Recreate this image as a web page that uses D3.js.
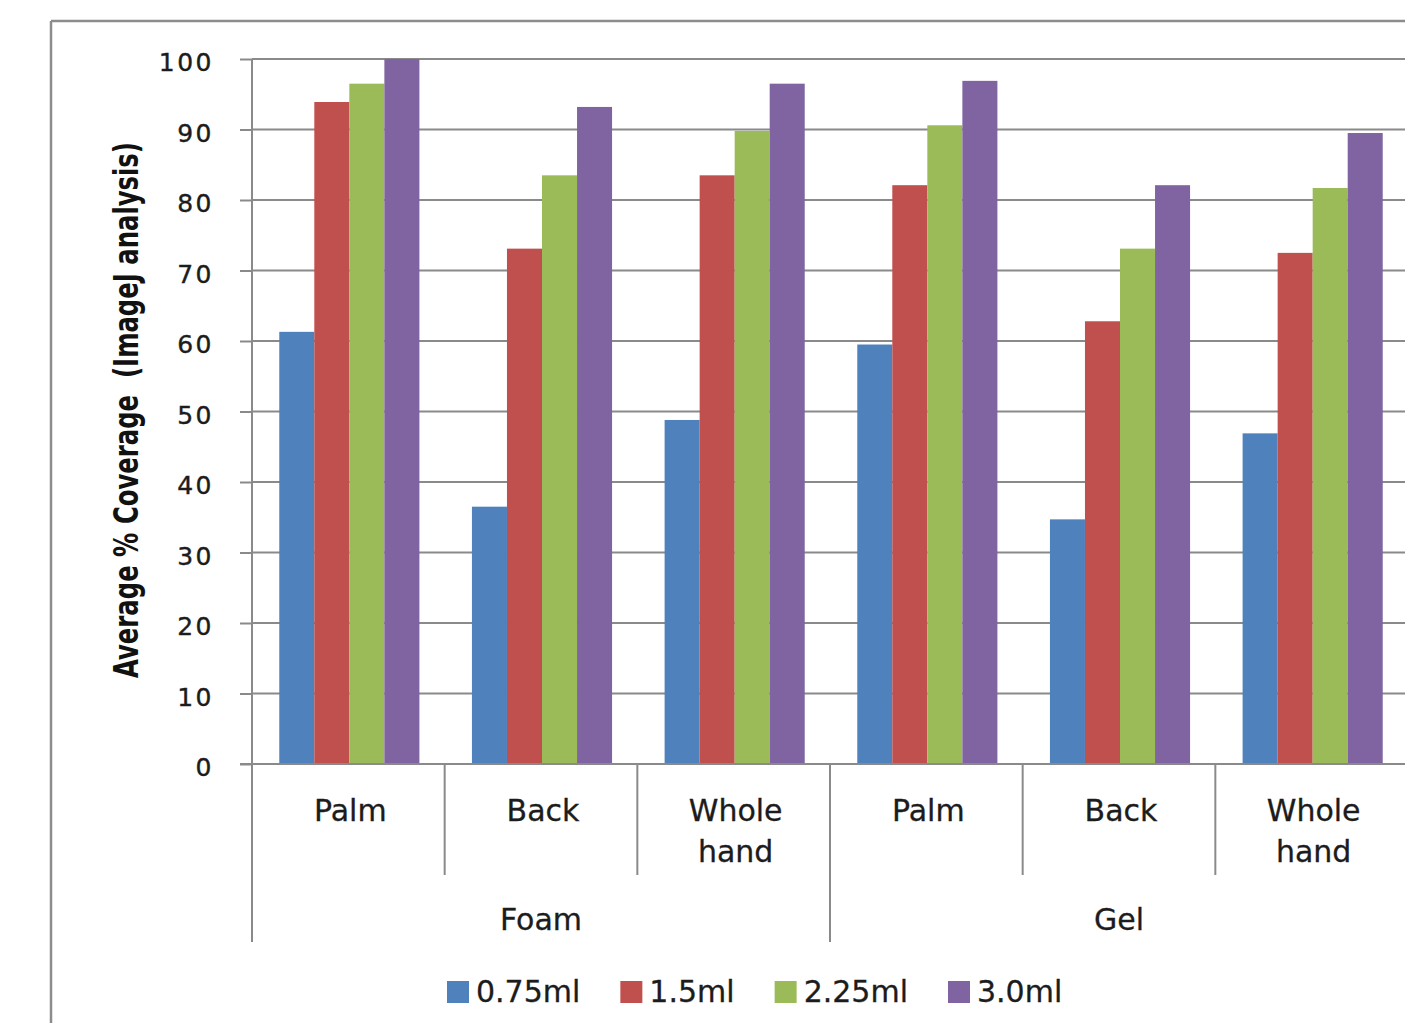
<!DOCTYPE html>
<html>
<head>
<meta charset="utf-8">
<script src="https://cdn.jsdelivr.net/npm/d3@7"></script>
<style>
  html, body { margin: 0; padding: 0; background: #fff; overflow: hidden; }
  svg { display: block; font-family: "DejaVu Sans", Verdana, sans-serif; }
</style>
</head>
<body>
<svg id="chart" width="1405" height="1023"></svg>
<script>
// Sub-regions of the hand, grouped by product type
const groups = ["Foam", "Gel"];
const regions = ["Palm", "Back", "Whole hand"];
const categories = ["Foam|Palm", "Foam|Back", "Foam|Whole hand", "Gel|Palm", "Gel|Back", "Gel|Whole hand"];

// Applied volume series
const seriesNames = ["0.75ml", "1.5ml", "2.25ml", "3.0ml"];
const seriesColors = ["#4F81BD", "#C0504D", "#9BBB59", "#8064A2"];

// Average % coverage for each category, one array per volume
const v075 = [61.3, 36.5, 48.8, 59.5, 34.7, 46.9];
const v150 = [93.9, 73.1, 83.5, 82.1, 62.8, 72.5];
const v225 = [96.5, 83.5, 89.8, 90.6, 73.1, 81.7];
const v300 = [100.0, 93.2, 96.5, 96.9, 82.1, 89.5];

const yTicks = [0, 10, 20, 30, 40, 50, 60, 70, 80, 90, 100];
const yTitle = "Average % Coverage  (ImageJ analysis)";

const seriesValues = [v075, v150, v225, v300];

const svg = d3.select("#chart");
const gridColor = "#8a8a8a";
const textColor = "#1c1c1c";

// plot geometry
const plotLeft = 252, plotRight = 1408, plotTop = 59, plotBottom = 764;

// outer chart frame
svg.append("line").attr("x1", 51).attr("x2", 1405).attr("y1", 21).attr("y2", 21)
  .attr("stroke", "#8c8c8c").attr("stroke-width", 2.5);
svg.append("line").attr("x1", 51).attr("x2", 51).attr("y1", 21).attr("y2", 1023)
  .attr("stroke", "#8c8c8c").attr("stroke-width", 2.5);

const y = d3.scaleLinear().domain([0, 100]).range([plotBottom, plotTop]);
const x0 = d3.scaleBand().domain(categories).range([plotLeft, plotRight]).padding(0);
const x1 = d3.scaleBand().domain(seriesNames).range([1, x0.bandwidth() + 1])
  .paddingInner(0).paddingOuter(0.75);

// horizontal gridlines
svg.append("g").selectAll("line").data(yTicks.filter(t => t > 0)).join("line")
  .attr("x1", plotLeft).attr("x2", plotRight)
  .attr("y1", d => y(d)).attr("y2", d => y(d))
  .attr("stroke", gridColor).attr("stroke-width", 2);

// bars
const rows = categories.map((c, i) => ({ cat: c, vals: seriesNames.map((s, j) => ({ s, j, v: seriesValues[j][i] })) }));
svg.append("g").selectAll("g").data(rows).join("g")
  .attr("transform", d => `translate(${x0(d.cat)},0)`)
  .selectAll("rect").data(d => d.vals).join("rect")
  .attr("x", d => x1(d.s))
  .attr("width", x1.bandwidth())
  .attr("y", d => y(d.v))
  .attr("height", d => y(0) - y(d.v))
  .attr("fill", d => seriesColors[d.j]);

// y axis
const yAxis = d3.axisLeft(y).tickValues(yTicks).tickSizeInner(12).tickSizeOuter(0).tickPadding(26);
const gy = svg.append("g").attr("transform", `translate(${plotLeft},0)`).call(yAxis);
gy.select(".domain").remove();
gy.selectAll(".tick line").attr("stroke", gridColor).attr("stroke-width", 2);
gy.selectAll(".tick text")
  .attr("fill", textColor)
  .attr("stroke", textColor)
  .attr("stroke-width", 0.4)
  .attr("font-size", 25)
  .attr("letter-spacing", 2.5)
  .attr("dy", "0.46em")
  .attr("font-family", "DejaVu Sans, sans-serif");

// y axis line running through the category label area
svg.append("line").attr("x1", plotLeft).attr("x2", plotLeft).attr("y1", plotTop).attr("y2", 942)
  .attr("stroke", gridColor).attr("stroke-width", 2);
// baseline
svg.append("line").attr("x1", plotLeft - 12).attr("x2", plotRight).attr("y1", plotBottom).attr("y2", plotBottom)
  .attr("stroke", gridColor).attr("stroke-width", 2);

// category separators: short between regions, long between groups
categories.forEach((c, i) => {
  if (i === 0) return;
  const isGroupEdge = i % regions.length === 0;
  svg.append("line")
    .attr("x1", x0(c)).attr("x2", x0(c))
    .attr("y1", plotBottom).attr("y2", isGroupEdge ? 942 : 875)
    .attr("stroke", gridColor).attr("stroke-width", 2);
});
svg.append("line").attr("x1", plotRight).attr("x2", plotRight).attr("y1", plotBottom).attr("y2", 942)
  .attr("stroke", gridColor).attr("stroke-width", 2);

// region labels (wrapped)
const catLabels = svg.append("g").selectAll("text").data(categories).join("text")
  .attr("x", d => x0(d) + x0.bandwidth() / 2 + 2)
  .attr("y", 821)
  .attr("text-anchor", "middle")
  .attr("font-size", 30)
  .attr("fill", textColor)
  .attr("stroke", textColor)
  .attr("stroke-width", 0.3);
catLabels.each(function (d) {
  const words = d.split("|")[1].split(" ");
  const t = d3.select(this);
  words.forEach((w, k) => {
    t.append("tspan").attr("x", t.attr("x")).attr("dy", k === 0 ? 0 : 41).text(w);
  });
});

// group labels
const groupWidth = x0.bandwidth() * regions.length;
svg.append("g").selectAll("text").data(groups).join("text")
  .attr("x", (d, i) => plotLeft + groupWidth * i + groupWidth / 2)
  .attr("y", 930)
  .attr("text-anchor", "middle")
  .attr("font-size", 30)
  .attr("fill", textColor)
  .attr("stroke", textColor)
  .attr("stroke-width", 0.3)
  .text(d => d);

// y axis title: a tall, narrow bold face, sized to span 536px along the axis
const titleLen = 536, titleCap = 25;
const yt = svg.append("text")
  .attr("text-anchor", "middle")
  .attr("font-size", 20)
  .attr("font-weight", "bold")
  .attr("fill", "#111")
  .style("white-space", "pre")
  .text(yTitle);
const fs = 20 * titleLen / yt.node().getComputedTextLength();
const stretch = titleCap / (0.729 * fs);
yt.attr("font-size", fs)
  .attr("transform", `translate(138,410) rotate(-90) scale(1,${stretch})`);

// legend
const legend = svg.append("g");
let lx = 447;
seriesNames.forEach((s, j) => {
  legend.append("rect").attr("x", lx).attr("y", 981).attr("width", 22).attr("height", 22)
    .attr("fill", seriesColors[j]);
  const t = legend.append("text").attr("x", lx + 29).attr("y", 1002)
    .attr("font-size", 30).attr("fill", textColor)
    .attr("stroke", textColor).attr("stroke-width", 0.3).text(s);
  lx += 29 + t.node().getComputedTextLength() + 40;
});
</script>
</body>
</html>
